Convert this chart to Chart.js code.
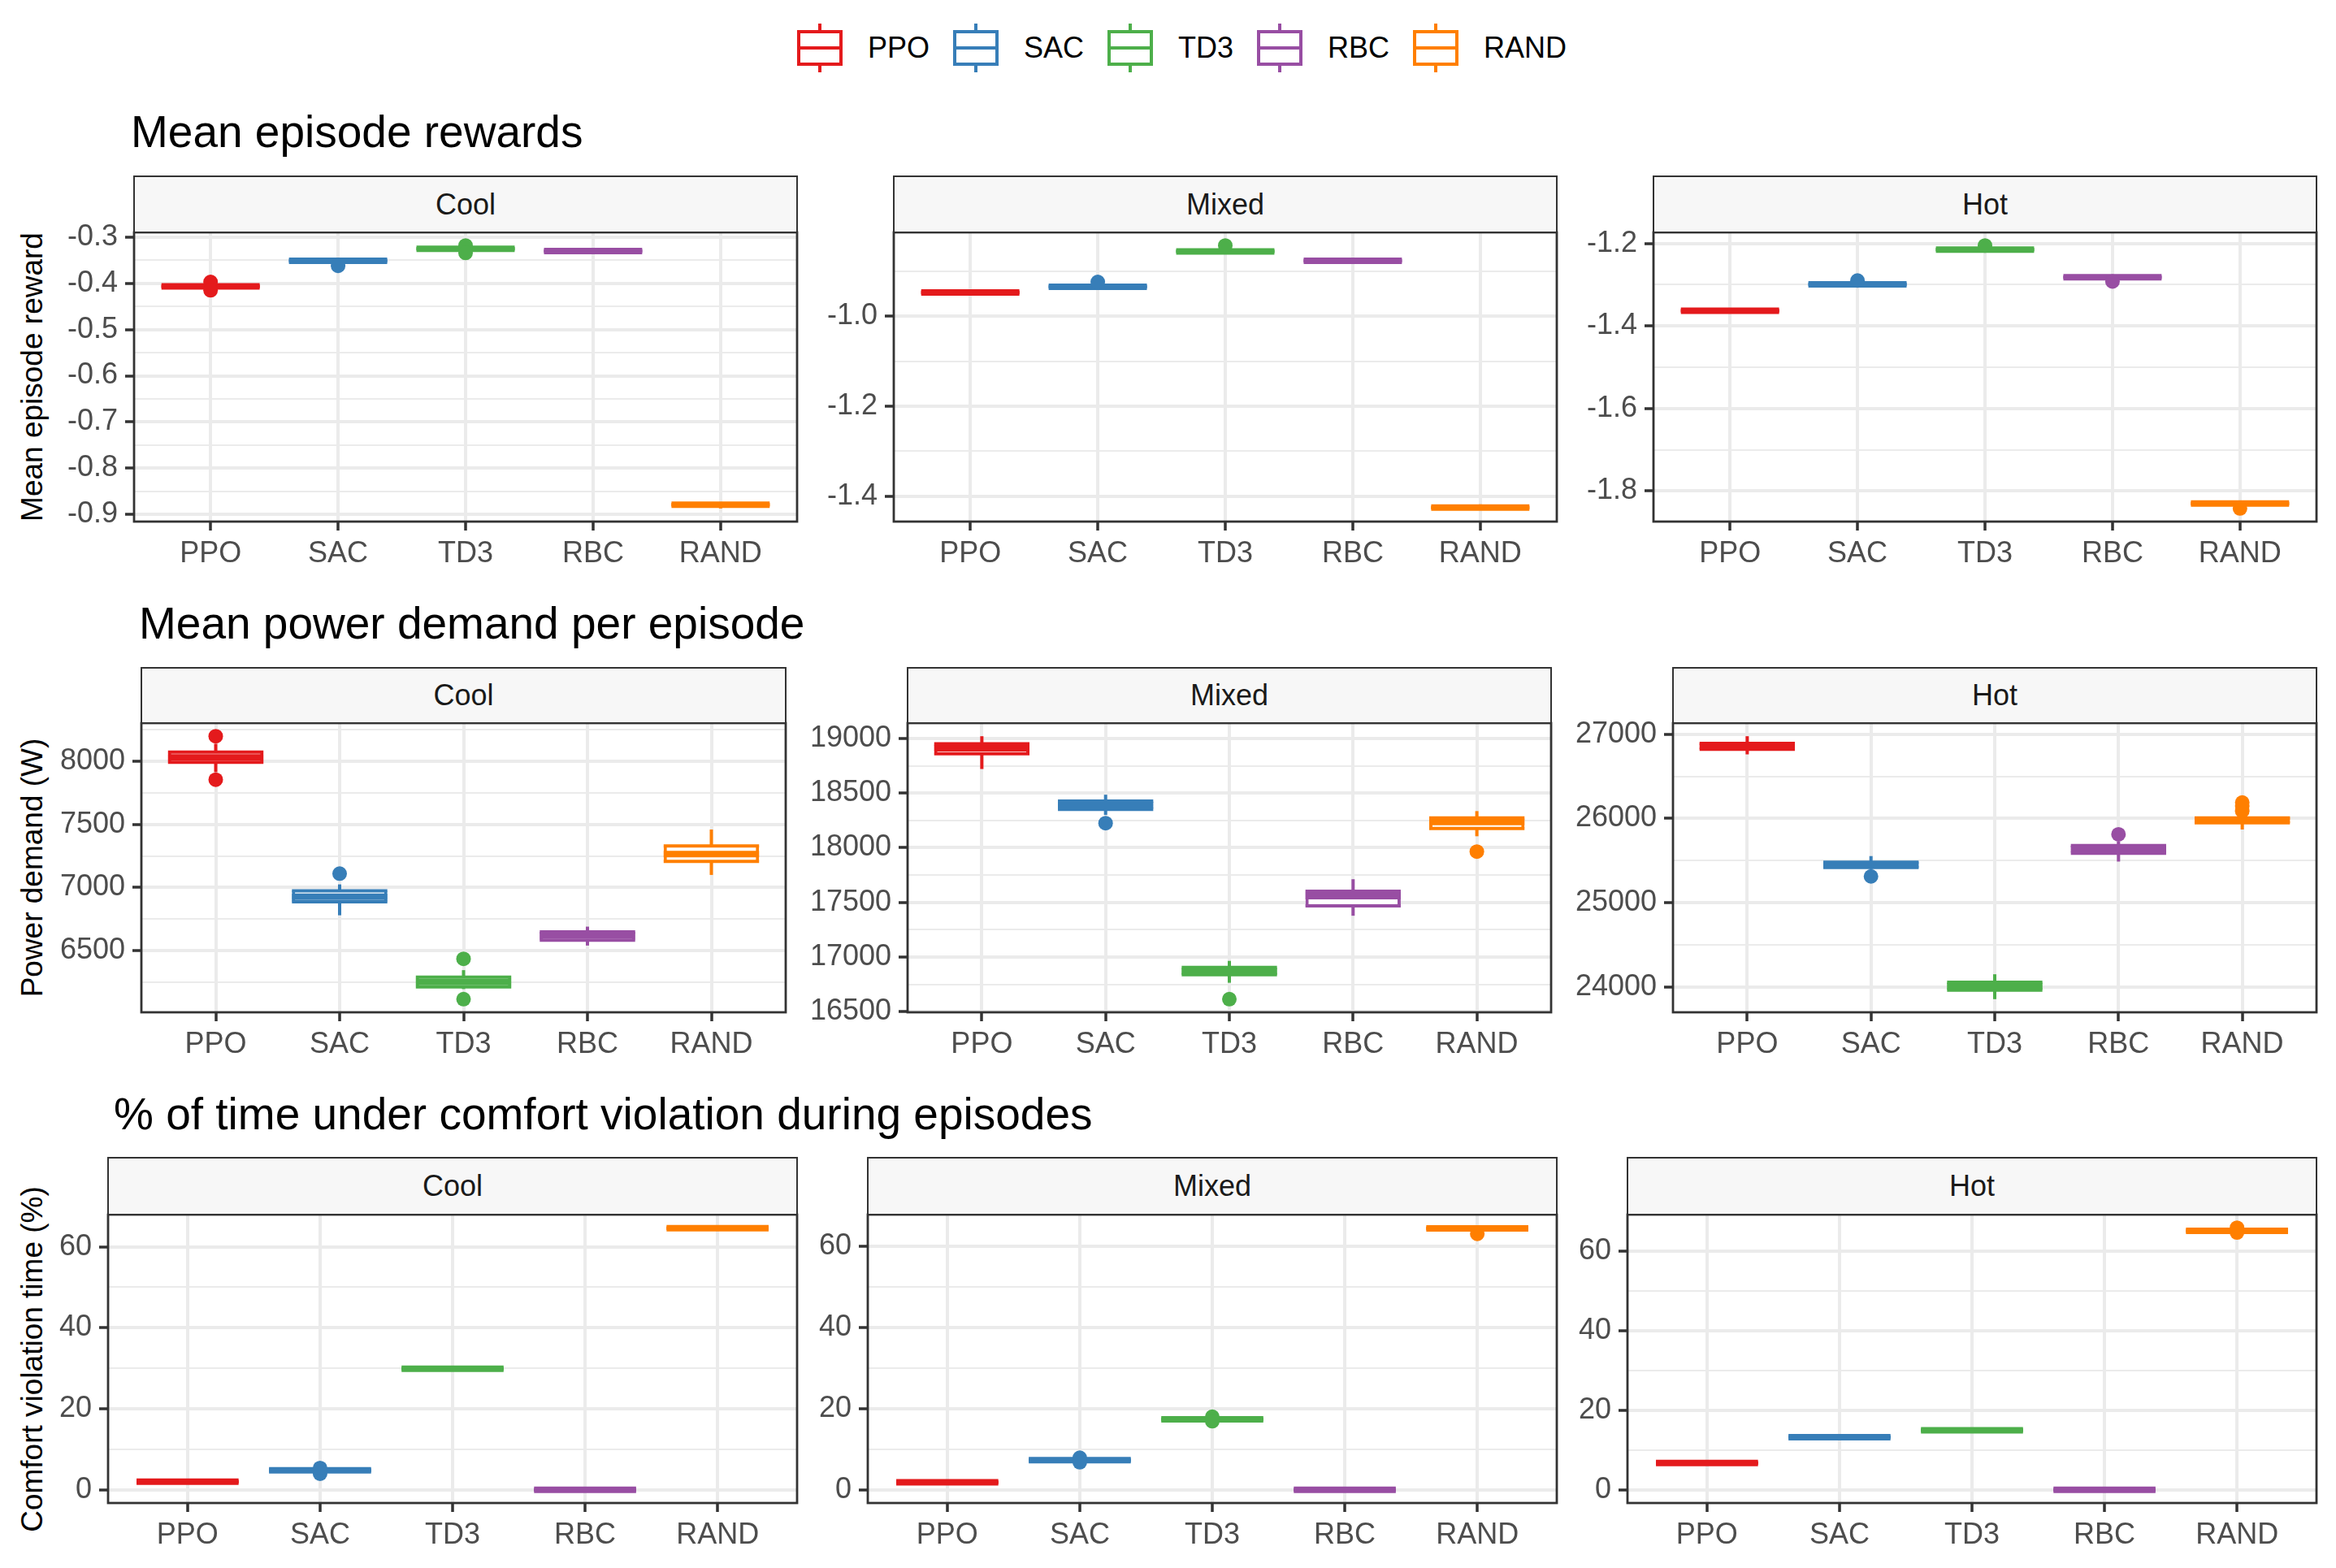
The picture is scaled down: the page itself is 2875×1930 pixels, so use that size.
<!DOCTYPE html>
<html>
<head>
<meta charset="utf-8">
<title>Agent comparison by climate</title>
<script src="https://cdn.jsdelivr.net/npm/chart.js@4.4.1/dist/chart.umd.min.js"></script>
<style>
  html, body { margin: 0; padding: 0; background: #ffffff; }
  body { width: 2875px; height: 1930px; position: relative; overflow: hidden;
         font-family: "Liberation Sans", Arial, Helvetica, sans-serif; }
  canvas { position: absolute; }
  .rowTitle { position: absolute; font-size: 55px; line-height: 55px; color: #000; white-space: nowrap; }
  .strip { position: absolute; box-sizing: border-box; background: #F7F7F7; border: 2.8px solid #333333;
           color: #1A1A1A; font-size: 36px; line-height: 36px; display: flex; align-items: center; justify-content: center; }
  .yTitle { position: absolute; font-size: 37px; line-height: 37px; color: #000; white-space: nowrap;
            transform: translate(-50%, -50%) rotate(-90deg); }
  #legend { position: absolute; left: 981px; top: 29px; height: 60px; display: flex; align-items: center;
            font-size: 36px; line-height: 36px; color: #000; }
  .key { display: flex; align-items: center; margin-right: 29px; }
  .key svg { margin-right: 31px; }
</style>
</head>
<body>
<div id="legend"></div>
<script>
const algorithms = ["PPO", "SAC", "TD3", "RBC", "RAND"];
const climates = ["Cool", "Mixed", "Hot"];
const colors = ["#E41A1C", "#377EB8", "#4DAF4A", "#984EA3", "#FF7F00"];

// each entry: [lower whisker, q1, median, q3, upper whisker], one per algorithm
const rewardCool = [[-0.409, -0.4075, -0.4065, -0.4055, -0.404], [-0.353, -0.352, -0.351, -0.350, -0.349],
  [-0.327, -0.3255, -0.325, -0.3245, -0.323], [-0.331, -0.3305, -0.330, -0.3295, -0.329], [-0.887, -0.8795, -0.879, -0.8785, -0.878]];
const rewardMixed = [[-0.949, -0.948, -0.9475, -0.947, -0.946], [-0.936, -0.935, -0.9345, -0.934, -0.933],
  [-0.857, -0.8565, -0.856, -0.8555, -0.855], [-0.878, -0.8775, -0.877, -0.8765, -0.876], [-1.427, -1.4255, -1.425, -1.4245, -1.418]];
const rewardHot = [[-1.364, -1.3635, -1.363, -1.3625, -1.362], [-1.300, -1.2995, -1.299, -1.2985, -1.298],
  [-1.216, -1.2155, -1.215, -1.2145, -1.214], [-1.283, -1.2825, -1.282, -1.2815, -1.281], [-1.831, -1.8305, -1.830, -1.8295, -1.829]];
const rewardCoolOut = [[-0.397, -0.415], [-0.362], [-0.318, -0.334], [], []];
const rewardMixedOut = [[], [-0.924], [-0.843], [], []];
const rewardHotOut = [[], [-1.290], [-1.205], [-1.292], [-1.842]];

const powerCool = [[7915, 7993, 8032, 8074, 8140], [6780, 6887, 6927, 6974, 7025],
  [6195, 6212, 6250, 6290, 6345], [6540, 6582, 6620, 6648, 6690], [7100, 7208, 7265, 7330, 7460]];
const powerMixed = [[18720, 18860, 18910, 18950, 19020], [18300, 18350, 18389, 18426, 18485],
  [16765, 16838, 16868, 16905, 16965], [17378, 17469, 17557, 17602, 17712], [18105, 18176, 18235, 18272, 18335]];
const powerHot = [[26760, 26820, 26856, 26890, 26975], [25400, 25420, 25452, 25482, 25555],
  [23860, 23967, 24015, 24060, 24155], [25490, 25588, 25639, 25679, 25728], [25870, 25949, 25982, 26008, 26040]];
const powerCoolOut = [[8200, 7855], [7110], [6435, 6115], [], []];
const powerMixedOut = [[], [18225], [16615], [], [17965]];
const powerHotOut = [[], [25314], [], [25813], [26190, 26150, 26090]];

const comfortCool = [[1.9, 2.0, 2.05, 2.1, 2.2], [4.6, 4.75, 4.85, 4.95, 5.1],
  [29.8, 29.85, 29.9, 29.95, 30.0], [0, 0, 0, 0, 0], [64.5, 64.55, 64.6, 64.65, 64.7]];
const comfortMixed = [[1.7, 1.8, 1.85, 1.9, 2.0], [7.1, 7.2, 7.3, 7.4, 7.5],
  [17.2, 17.3, 17.35, 17.4, 17.5], [0, 0, 0, 0, 0], [64.2, 64.3, 64.35, 64.4, 64.5]];
const comfortHot = [[6.6, 6.7, 6.75, 6.8, 6.9], [13.1, 13.2, 13.25, 13.3, 13.4],
  [14.8, 14.9, 14.95, 15.0, 15.1], [0, 0, 0, 0, 0], [64.8, 64.9, 65.0, 65.1, 65.2]];
const comfortCoolOut = [[], [4.0, 5.4], [], [], []];
const comfortMixedOut = [[], [7.9, 6.8], [18.0, 16.9], [], [63.0]];
const comfortHotOut = [[], [], [], [], [65.8, 64.6]];

// major tick labels
const rewardTicksCool = [-0.9, -0.8, -0.7, -0.6, -0.5, -0.4, -0.3];
const rewardTicksMixed = [-1.4, -1.2, -1.0];
const rewardTicksHot = [-1.8, -1.6, -1.4, -1.2];
const powerTicksCool = [6500, 7000, 7500, 8000];
const powerTicksMixed = [16500, 17000, 17500, 18000, 18500, 19000];
const powerTicksHot = [24000, 25000, 26000, 27000];
const comfortTicks = [0, 20, 40, 60];

const rows = [
  { title: "Mean episode rewards", yTitle: "Mean episode reward", decimals: 1,
    stats: [rewardCool, rewardMixed, rewardHot], outliers: [rewardCoolOut, rewardMixedOut, rewardHotOut],
    ticks: [rewardTicksCool, rewardTicksMixed, rewardTicksHot] },
  { title: "Mean power demand per episode", yTitle: "Power demand (W)", decimals: 0,
    stats: [powerCool, powerMixed, powerHot], outliers: [powerCoolOut, powerMixedOut, powerHotOut],
    ticks: [powerTicksCool, powerTicksMixed, powerTicksHot] },
  { title: "% of time under comfort violation during episodes", yTitle: "Comfort violation time (%)", decimals: 0,
    stats: [comfortCool, comfortMixed, comfortHot], outliers: [comfortCoolOut, comfortMixedOut, comfortHotOut],
    ticks: [comfortTicks, comfortTicks, comfortTicks] }
];

// page geometry
const frames = [
  { titleX: 161, titleY: 162, stripTop: 216, plotTop: 286, plotBottom: 642, lefts: [165, 1100, 2035], rights: [981, 1916, 2851] },
  { titleX: 171, titleY: 767, stripTop: 821, plotTop: 890, plotBottom: 1246, lefts: [174, 1117, 2059], rights: [967, 1909, 2851] },
  { titleX: 140, titleY: 1371, stripTop: 1424, plotTop: 1495, plotBottom: 1850, lefts: [133, 1068, 2003], rights: [981, 1916, 2851] }
];
const FONT = '"Liberation Sans", Arial, Helvetica, sans-serif';
const YW = 160, XH = 70, PAD = 12, BOX = 0.77, XPAD = 0.6;

const panelBorder = {
  id: "panelBorder",
  afterDatasetsDraw(chart) {
    const { ctx, chartArea: a } = chart;
    ctx.save();
    ctx.strokeStyle = "#333333";
    ctx.lineWidth = 2.8;
    ctx.strokeRect(a.left, a.top, a.right - a.left, a.bottom - a.top);
    ctx.restore();
  }
};

function addDiv(cls, text, css) {
  const d = document.createElement("div");
  d.className = cls;
  d.textContent = text;
  Object.assign(d.style, css);
  document.body.appendChild(d);
  return d;
}

// legend
const legend = document.getElementById("legend");
algorithms.forEach((name, i) => {
  const c = colors[i];
  const key = document.createElement("div");
  key.className = "key";
  key.innerHTML =
    '<svg width="56" height="60" viewBox="0 0 56 60">' +
    '<line x1="28" y1="0" x2="28" y2="60" stroke="' + c + '" stroke-width="4"/>' +
    '<rect x="2" y="10" width="52" height="40" fill="#fff" stroke="' + c + '" stroke-width="4"/>' +
    '<line x1="2" y1="30" x2="54" y2="30" stroke="' + c + '" stroke-width="4"/></svg>' +
    "<span>" + name + "</span>";
  legend.appendChild(key);
});

// half of the box width in pixels (x axis spans 0.4 .. 5.6 category units)
function halfBox(ctx) {
  const a = ctx.chart.chartArea;
  return a ? (a.right - a.left) / (algorithms.length - 1 + 2 * XPAD) * BOX / 2 : 0;
}

function makePanel(r, c) {
  const row = rows[r], f = frames[r];
  const left = f.lefts[c], right = f.rights[c];
  const stats = row.stats[c], outs = row.outliers[c], majors = row.ticks[c];

  // y range: data range expanded by 5% on each side
  const all = [];
  stats.forEach(s => all.push(s[0], s[4]));
  outs.forEach(o => all.push(...o));
  const lo = Math.min(...all), hi = Math.max(...all), span = hi - lo;
  const yMin = lo - 0.05 * span, yMax = hi + 0.05 * span;

  const step = majors[1] - majors[0];
  const tickList = majors.map(v => ({ value: v, minor: false }));
  for (let k = -1; k < majors.length; k++) {
    const v = majors[0] + step * (k + 0.5);
    if (v >= yMin && v <= yMax) tickList.push({ value: v, minor: true });
  }
  tickList.sort((a, b) => a.value - b.value);

  const outPoints = [], outColors = [];
  outs.forEach((o, i) => o.forEach(v => { outPoints.push({ x: i + 1, y: v }); outColors.push(colors[i]); }));

  const w = YW + (right - left) + PAD, h = PAD + (f.plotBottom - f.plotTop) + XH;
  const canvas = document.createElement("canvas");
  canvas.width = w;
  canvas.height = h;
  canvas.style.left = (left - YW) + "px";
  canvas.style.top = (f.plotTop - PAD) + "px";
  canvas.style.width = w + "px";
  canvas.style.height = h + "px";
  document.body.appendChild(canvas);

  const marker = (label, idx, width, order) => ({
    type: "line", label, data: stats.map((s, i) => ({ x: i + 1, y: s[idx] })), showLine: false,
    pointStyle: "line", pointRadius: halfBox, pointBorderWidth: width,
    pointBorderColor: colors, pointBackgroundColor: colors, order
  });

  new Chart(canvas, {
    type: "bar",
    data: {
      datasets: [
        { type: "line", label: "outliers", data: outPoints, showLine: false, pointStyle: "circle",
          pointRadius: 9, pointBorderWidth: 0, pointBackgroundColor: outColors, order: 0 },
        marker("median", 2, 8, 1),
        marker("q1", 1, 4, 2),
        marker("q3", 3, 4, 2),
        { type: "bar", label: "box", data: stats.map((s, i) => ({ x: i + 1, y: [s[1], s[3]] })),
          backgroundColor: "#ffffff", borderColor: colors, borderWidth: { left: 4, right: 4, top: 0, bottom: 0 },
          borderSkipped: false, inflateAmount: 0, barPercentage: BOX, categoryPercentage: 1, grouped: false, order: 3 },
        { type: "bar", label: "whisker", data: stats.map((s, i) => ({ x: i + 1, y: [s[0], s[4]] })),
          backgroundColor: colors, barThickness: 4, inflateAmount: 0, grouped: false, order: 4 }
      ]
    },
    options: {
      responsive: false,
      animation: false,
      events: [],
      layout: { padding: { left: 0, top: PAD, right: PAD, bottom: 0 } },
      plugins: { legend: { display: false }, title: { display: false }, tooltip: { enabled: false } },
      scales: {
        x: {
          type: "linear", offset: false, bounds: "data",
          min: 1 - XPAD, max: algorithms.length + XPAD,
          border: { display: false },
          grid: { offset: false, color: "#EBEBEB", lineWidth: 4, tickColor: "#333333", tickWidth: 3.5, tickLength: 11 },
          ticks: { color: "#4D4D4D", font: { family: FONT, size: 36 }, padding: 7, maxRotation: 0, autoSkip: false,
                   callback: v => algorithms[Math.round(v) - 1] },
          afterBuildTicks(s) { s.ticks = algorithms.map((a, i) => ({ value: i + 1 })); },
          afterFit(s) { s.height = XH; s.paddingLeft = 0; s.paddingRight = 0; }
        },
        y: {
          type: "linear", min: yMin, max: yMax, bounds: "data",
          border: { display: false },
          grid: {
            color: "#EBEBEB",
            lineWidth: ctx => (ctx.tick && ctx.tick.minor ? 2 : 4),
            tickColor: ctx => (ctx.tick && ctx.tick.minor ? "rgba(0,0,0,0)" : "#333333"),
            tickWidth: 3.5, tickLength: 11
          },
          ticks: {
            color: "#4D4D4D", font: { family: FONT, size: 36 }, padding: 9, autoSkip: false,
            callback: (v, i, t) => (t[i] && t[i].minor ? "" : Number(v).toFixed(row.decimals))
          },
          afterBuildTicks(s) { s.ticks = tickList.map(t => ({ value: t.value, minor: t.minor })); },
          afterFit(s) { s.width = YW; s.paddingTop = 0; s.paddingBottom = 0; }
        }
      }
    },
    plugins: [panelBorder]
  });

  addDiv("strip", climates[c], {
    left: (left - 1.4) + "px", top: f.stripTop + "px",
    width: (right - left + 2.8) + "px", height: (f.plotTop - f.stripTop + 1.4) + "px"
  });
}

rows.forEach((row, r) => {
  const f = frames[r];
  addDiv("rowTitle", row.title, { left: f.titleX + "px", top: (f.titleY - 0.4865 * 55) + "px" });
  addDiv("yTitle", row.yTitle, { left: "39px", top: ((f.plotTop + f.plotBottom) / 2) + "px" });
  climates.forEach((cl, c) => makePanel(r, c));
});
</script>
</body>
</html>
